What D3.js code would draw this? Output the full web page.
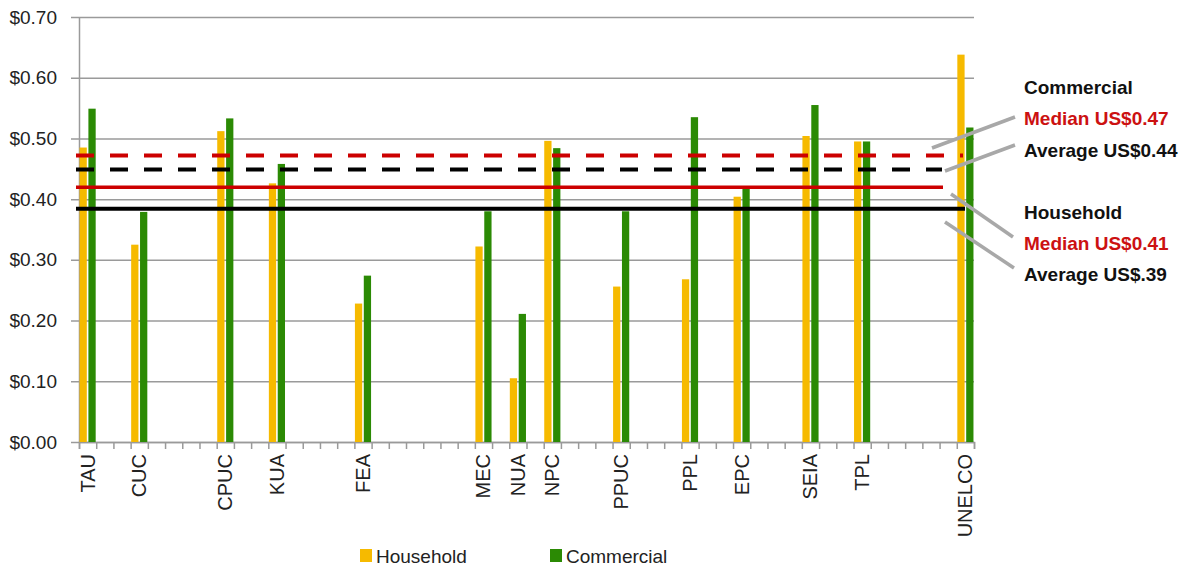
<!DOCTYPE html>
<html>
<head>
<meta charset="utf-8">
<script src="https://cdn.jsdelivr.net/npm/d3@7"></script>
<style>
  body { margin: 0; background: #fff; }
  text { font-family: "Liberation Sans", Arial, sans-serif; }
</style>
</head>
<body>
<div id="chart"></div>
<script>
// categories sit in 52 slots along the x axis, most slots are empty
const slotCount = 52;
const companies = ["TAU", "CUC", "CPUC", "KUA", "FEA", "MEC", "NUA", "NPC", "PPUC", "PPL", "EPC", "SEIA", "TPL", "UNELCO"];
const slotIndex = [0, 3, 8, 11, 16, 23, 25, 27, 31, 35, 38, 42, 45, 51];
const household = [0.485, 0.325, 0.512, 0.426, 0.228, 0.322, 0.105, 0.496, 0.256, 0.268, 0.404, 0.504, 0.495, 0.638];
const commercial = [0.549, 0.379, 0.533, 0.458, 0.274, 0.380, 0.211, 0.484, 0.380, 0.535, 0.417, 0.555, 0.495, 0.518];
const seriesNames = ["Household", "Commercial"];
const yTicks = [0, 0.1, 0.2, 0.3, 0.4, 0.5, 0.6, 0.7];

// reference lines
const refValues = [0.472, 0.449, 0.4195, 0.384];
const refNames = ["Commercial median", "Commercial average", "Household median", "Household average"];
const refLabels = ["Median US$0.47", "Average US$0.44", "Median US$0.41", "Average US$.39"];

const colors = { Household: "#F6BA00", Commercial: "#2B8A04" };

var margin = { top: 17, right: 214, bottom: 127, left: 79 },
  width = 1188 - margin.left - margin.right,
  height = 569 - margin.top - margin.bottom;

var svg = d3.select("#chart")
  .append("svg")
  .attr("width", 1188)
  .attr("height", 569)
  .append("g")
  .attr("transform", "translate(" + margin.left + "," + margin.top + ")");

var x = d3.scaleBand()
  .domain(d3.range(slotCount))
  .range([0, width])
  .padding(0);

var xEdge = d3.scaleLinear()
  .domain([0, slotCount])
  .range([0, width]);

var x1 = d3.scaleBand()
  .domain(seriesNames)
  .range([0, x.bandwidth()])
  .paddingInner(0.18)
  .paddingOuter(0.06);

var y = d3.scaleLinear()
  .domain([0, 0.7])
  .range([height, 0]);

// gridlines
svg.append("g")
  .attr("class", "grid")
  .attr("transform", "translate(-8,0)")
  .call(d3.axisLeft(y).tickValues(yTicks).tickSize(-(width + 8)).tickFormat(""))
  .call(g => g.select(".domain").remove())
  .call(g => g.selectAll("line").attr("stroke", "#9a9a9a").attr("stroke-width", 1.5));

// y axis
svg.append("g")
  .call(d3.axisLeft(y).tickValues(yTicks).tickSize(0).tickPadding(22)
    .tickFormat(d => "$" + d3.format(".2f")(d)))
  .call(g => g.select(".domain").attr("stroke", "#9a9a9a").attr("stroke-width", 1.5))
  .call(g => g.selectAll("text").attr("font-size", "19px").attr("fill", "#222"));

// x axis ticks at slot edges
svg.append("g")
  .attr("transform", "translate(0," + height + ")")
  .call(d3.axisBottom(xEdge).tickValues(d3.range(slotCount + 1)).tickSize(7).tickFormat(""))
  .call(g => g.select(".domain").attr("stroke", "#9a9a9a").attr("stroke-width", 1.5))
  .call(g => g.selectAll("line").attr("stroke", "#9a9a9a").attr("stroke-width", 1.5));

// x labels
svg.append("g")
  .selectAll("text")
  .data(companies)
  .enter()
  .append("text")
  .attr("transform", (d, i) => "translate(" + (x(slotIndex[i]) + x.bandwidth() / 2 + 7) + "," + (height + 12) + ") rotate(-90)")
  .attr("text-anchor", "end")
  .attr("font-size", "20px")
  .attr("fill", "#222")
  .text(d => d);

// bars
var rows = companies.map((c, i) => ({ slot: slotIndex[i], Household: household[i], Commercial: commercial[i] }));

svg.append("g")
  .selectAll("g")
  .data(rows)
  .enter()
  .append("g")
  .attr("transform", d => "translate(" + x(d.slot) + ",0)")
  .selectAll("rect")
  .data(d => seriesNames.map(k => ({ key: k, value: d[k] })))
  .enter()
  .append("rect")
  .attr("x", d => x1(d.key))
  .attr("width", x1.bandwidth())
  .attr("y", d => y(d.value))
  .attr("height", d => height - y(d.value))
  .attr("fill", d => colors[d.key]);

// reference lines, drawn over the bars
var refStyle = [
  { color: "#CC0000", dash: "18,16", end: 884, w: 4 },
  { color: "#000000", dash: "18,16", end: 863, w: 4 },
  { color: "#CC0000", dash: null, end: 864, w: 3.5 },
  { color: "#000000", dash: null, end: 886, w: 4 }
];

svg.append("g")
  .selectAll("line")
  .data(refValues)
  .enter()
  .append("line")
  .attr("x1", -3)
  .attr("x2", (d, i) => refStyle[i].end)
  .attr("y1", d => y(d))
  .attr("y2", d => y(d))
  .attr("stroke", (d, i) => refStyle[i].color)
  .attr("stroke-width", (d, i) => refStyle[i].w)
  .attr("stroke-dasharray", (d, i) => refStyle[i].dash);

// annotation block on the right
var ann = svg.append("g").attr("transform", "translate(" + (-margin.left) + "," + (-margin.top) + ")");

var connectors = [
  [932, 148, 1015, 117],
  [945, 171, 1015, 145],
  [951, 194, 1013, 237],
  [945, 222, 1014, 268]
];
ann.selectAll("line")
  .data(connectors)
  .enter()
  .append("line")
  .attr("x1", d => d[0]).attr("y1", d => d[1])
  .attr("x2", d => d[2]).attr("y2", d => d[3])
  .attr("stroke", "#a8a8a8")
  .attr("stroke-width", 3.5);

var annText = [
  { t: "Commercial", y: 94, c: "#111" },
  { t: refLabels[0], y: 125, c: "#CC1111" },
  { t: refLabels[1], y: 157, c: "#111" },
  { t: "Household", y: 219, c: "#111" },
  { t: refLabels[2], y: 250, c: "#CC1111" },
  { t: refLabels[3], y: 281, c: "#111" }
];
ann.selectAll("text")
  .data(annText)
  .enter()
  .append("text")
  .attr("x", 1024)
  .attr("y", d => d.y)
  .attr("font-size", "19px")
  .attr("font-weight", "bold")
  .attr("fill", d => d.c)
  .text(d => d.t);

// legend
var legend = ann.append("g");
var legendX = [360, 550];
seriesNames.forEach((k, i) => {
  legend.append("rect")
    .attr("x", legendX[i]).attr("y", 549)
    .attr("width", 12).attr("height", 13)
    .attr("fill", colors[k]);
  legend.append("text")
    .attr("x", legendX[i] + 16).attr("y", 563)
    .attr("font-size", "19px")
    .attr("fill", "#222")
    .text(k);
});
</script>
</body>
</html>
